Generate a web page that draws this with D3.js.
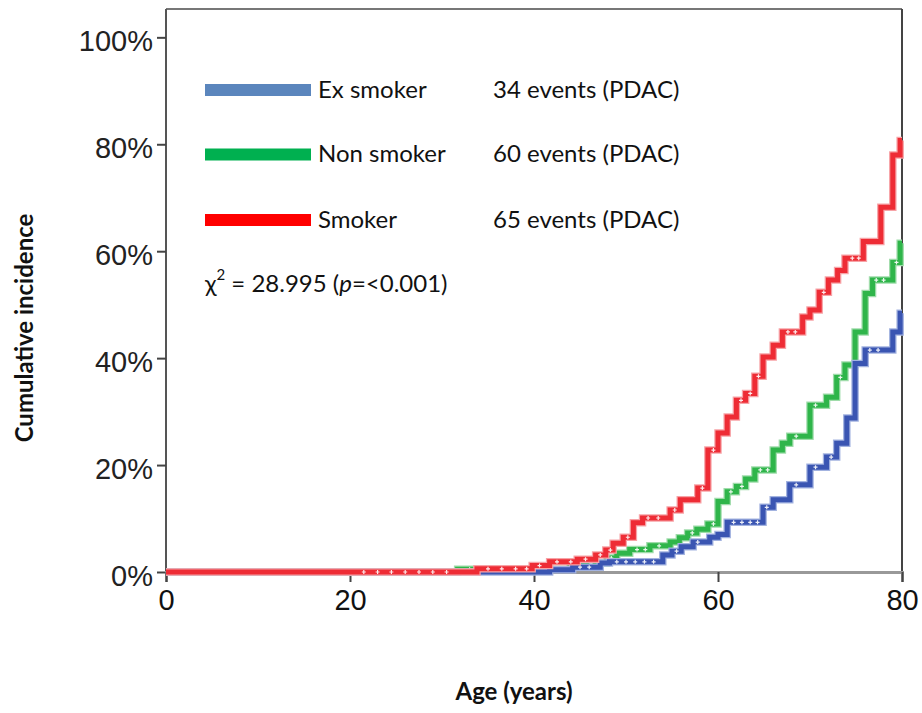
<!DOCTYPE html>
<html>
<head>
<meta charset="utf-8">
<script src="https://cdn.jsdelivr.net/npm/d3@7"></script>
<style>
  body { margin: 0; background: #fff; }
  svg { display: block; }
</style>
</head>
<body>
<div id="chart"></div>
<script>
// step times (age, years) and cumulative incidence (%)
var exAges   = [0, 41.7, 44.2, 47.2, 48.2, 54, 55, 56, 57.3, 59.1, 60, 61, 64.9, 66, 67.8, 70, 71.8, 72.9, 74, 74.9, 76, 79, 79.8, 80];
var exPct    = [0, 0.4, 0.9, 1.7, 1.9, 3.2, 3.9, 4.7, 5.6, 6.5, 7.0, 9.3, 12.1, 13.5, 16.3, 19.6, 21.5, 24.1, 28.8, 39, 41.5, 44.9, 48.4, 48.4];
var nonAges  = [0, 31.7, 43.9, 45.3, 47.9, 49, 50.4, 52.6, 54.8, 55.8, 56.7, 57.7, 58.9, 60, 61, 62, 63, 64, 66, 67, 67.8, 70, 71.8, 72.9, 73.8, 74.9, 76, 76.8, 79, 79.8, 80];
var nonPct   = [0, 0.5, 1.2, 1.7, 2.6, 3.5, 4.2, 4.9, 5.6, 6.4, 7.3, 8.0, 9.0, 13.2, 15.0, 16.0, 17.4, 19.1, 22.8, 24.1, 25.4, 31.2, 32.7, 36.4, 38.7, 44.9, 52.1, 54.6, 57.9, 61.5, 61.5];
var smkAges  = [0, 33.8, 39.8, 41.7, 44.7, 46.7, 47.8, 48.6, 49.7, 50.8, 51.8, 54.8, 55.9, 57.8, 58.9, 60, 61, 62, 63, 64, 64.9, 66, 67, 69.2, 70, 71, 72, 73, 73.8, 75.8, 77.7, 79, 79.8, 80];
var smkPct   = [0, 0.6, 1.2, 1.9, 2.4, 3.2, 4.1, 5.4, 6.5, 9.2, 10.1, 11.6, 13.5, 15.7, 22.8, 26, 29, 32.1, 33.4, 36.6, 40.2, 42.4, 44.9, 47.7, 49, 52.3, 54.6, 56.4, 58.7, 61.8, 68.2, 78, 80.7, 80.7];

// censored observations (+ marks)
var exCens  = [45, 46, 49, 50, 51, 52, 53, 55.5, 57.8, 61.7, 62.6, 63.5, 64.3, 65.3, 68.5, 70.6, 72.3, 76.5, 77.4];
var nonCens = [33, 34.5, 46.2, 48.4, 51.2, 52.1, 53.6, 57.2, 59.5, 61.4, 62.6, 64.6, 65.4, 68.5, 70.6, 73.3, 77.2, 78, 79.4];
var smkCens = [21.5, 23, 24.5, 26, 27.5, 29, 30.5, 35, 36.5, 38, 39.2, 40.6, 42.5, 44, 45.6, 47.2, 48.3, 50.2, 52.4, 53.5, 55.3, 58.3, 59.5, 62.5, 63.5, 64.4, 67.6, 68.4, 71.5, 74.6, 75.3];

var groupNames  = ["Ex smoker", "Non smoker", "Smoker"];
var groupEvents = ["34 events (PDAC)", "60 events (PDAC)", "65 events (PDAC)"];
var xTicks = [0, 20, 40, 60, 80];
var yTicks = [0, 20, 40, 60, 80, 100];

var svgWidth = 922;
var svgHeight = 713;

var svg = d3.select("#chart")
  .append("svg")
  .attr("width", svgWidth)
  .attr("height", svgHeight);

var x = d3.scaleLinear().domain([0, 80]).range([166, 902]);
var y = d3.scaleLinear().domain([0, 105.3]).range([572, 9]);

// frame
svg.append("line")
  .attr("x1", x(0)).attr("x2", x(80))
  .attr("y1", y(105.3)).attr("y2", y(105.3))
  .attr("stroke", "#777").attr("stroke-width", 2);
svg.append("line")
  .attr("x1", x(80)).attr("x2", x(80))
  .attr("y1", y(105.3)).attr("y2", y(0))
  .attr("stroke", "#444").attr("stroke-width", 2);
svg.append("line")
  .attr("x1", x(0)).attr("x2", x(0))
  .attr("y1", y(105.3)).attr("y2", y(0))
  .attr("stroke", "#555").attr("stroke-width", 2);

// y axis
var yAxis = svg.append("g")
  .attr("transform", `translate(${x(0)},0)`)
  .call(d3.axisLeft(y).tickValues(yTicks).tickSize(9).tickPadding(4).tickFormat(d => d + "%"));
yAxis.select(".domain").remove();
yAxis.selectAll(".tick line").attr("stroke", "#444").attr("stroke-width", 2);
yAxis.selectAll(".tick text")
  .attr("font-family", "Liberation Sans, Arial, sans-serif")
  .attr("font-size", 29)
  .attr("fill", "#222")
  .attr("dy", "0.45em");

// x axis
var xAxis = svg.append("g")
  .attr("transform", `translate(0,${y(0)})`)
  .call(d3.axisBottom(x).tickValues(xTicks).tickSize(10).tickPadding(7));
xAxis.select(".domain").attr("stroke", "#999").attr("stroke-width", 3);
xAxis.selectAll(".tick line").attr("stroke", "#444").attr("stroke-width", 2);
xAxis.selectAll(".tick text")
  .attr("font-family", "Liberation Sans, Arial, sans-serif")
  .attr("font-size", 29)
  .attr("fill", "#111");

// step curves
var series = [
  { ages: nonAges, pct: nonPct, cens: nonCens, color: "#2fb54a", halo: "#9fdcaa" },
  { ages: exAges, pct: exPct, cens: exCens, color: "#3a55b2", halo: "#a3b3e0" },
  { ages: smkAges, pct: smkPct, cens: smkCens, color: "#ee2c35", halo: "#f7a3a7" }
];

var line = d3.line()
  .x(d => x(d[0]))
  .y(d => y(d[1]))
  .curve(d3.curveStepAfter);

series.forEach(function(s) {
  var pts = s.ages.map((a, i) => [a, s.pct[i]]);
  svg.append("path")
    .attr("d", line(pts))
    .attr("fill", "none")
    .attr("stroke", s.halo)
    .attr("stroke-width", 7.5);
  svg.append("path")
    .attr("d", line(pts))
    .attr("fill", "none")
    .attr("stroke", s.color)
    .attr("stroke-width", 5);

  // censor marks
  var stepAt = function(a) {
    var i = d3.bisectRight(s.ages, a) - 1;
    return s.pct[Math.max(i, 0)];
  };
  svg.append("g")
    .selectAll("path")
    .data(s.cens)
    .enter()
    .append("path")
    .attr("d", d => {
      var cx = x(d), cy = y(stepAt(d));
      return `M${cx - 2},${cy}H${cx + 2}M${cx},${cy - 2}V${cy + 2}`;
    })
    .attr("stroke", "#fff")
    .attr("stroke-width", 1.2)
    .attr("opacity", 0.9);
});

// legend
var legendColors = ["#5b86bd", "#00b050", "#ff0000"];
var legendY = [90, 154.5, 220];
var legend = svg.append("g");
groupNames.forEach(function(name, i) {
  legend.append("rect")
    .attr("x", 205).attr("y", legendY[i] - 6)
    .attr("width", 106).attr("height", 12)
    .attr("fill", legendColors[i]);
  legend.append("text")
    .attr("x", 318).attr("y", legendY[i] + 7.5)
    .attr("font-family", "Lato, sans-serif")
    .attr("font-size", 24)
    .attr("fill", "#111")
    .text(name);
  legend.append("text")
    .attr("x", 493).attr("y", legendY[i] + 7.5)
    .attr("font-family", "Lato, sans-serif")
    .attr("font-size", 24)
    .attr("fill", "#111")
    .text(groupEvents[i]);
});

var chi = legend.append("text")
  .attr("x", 205).attr("y", 292)
  .attr("font-family", "Lato, sans-serif")
  .attr("font-size", 24)
  .attr("fill", "#111");
chi.append("tspan").text("\u03c7");
chi.append("tspan").attr("font-size", 15).attr("dy", -12).text("2");
chi.append("tspan").attr("dy", 12).text(" = 28.995 (");
chi.append("tspan").attr("font-style", "italic").text("p");
chi.append("tspan").text("=<0.001)");

// axis titles
svg.append("text")
  .attr("transform", `translate(33,328) rotate(-90)`)
  .attr("text-anchor", "middle")
  .attr("font-family", "Lato, sans-serif")
  .attr("font-weight", "bold")
  .attr("font-size", 24)
  .attr("fill", "#111")
  .text("Cumulative incidence");

svg.append("text")
  .attr("x", 514).attr("y", 700)
  .attr("text-anchor", "middle")
  .attr("font-family", "Lato, sans-serif")
  .attr("font-weight", "bold")
  .attr("font-size", 24)
  .attr("fill", "#111")
  .text("Age (years)");
</script>
</body>
</html>
